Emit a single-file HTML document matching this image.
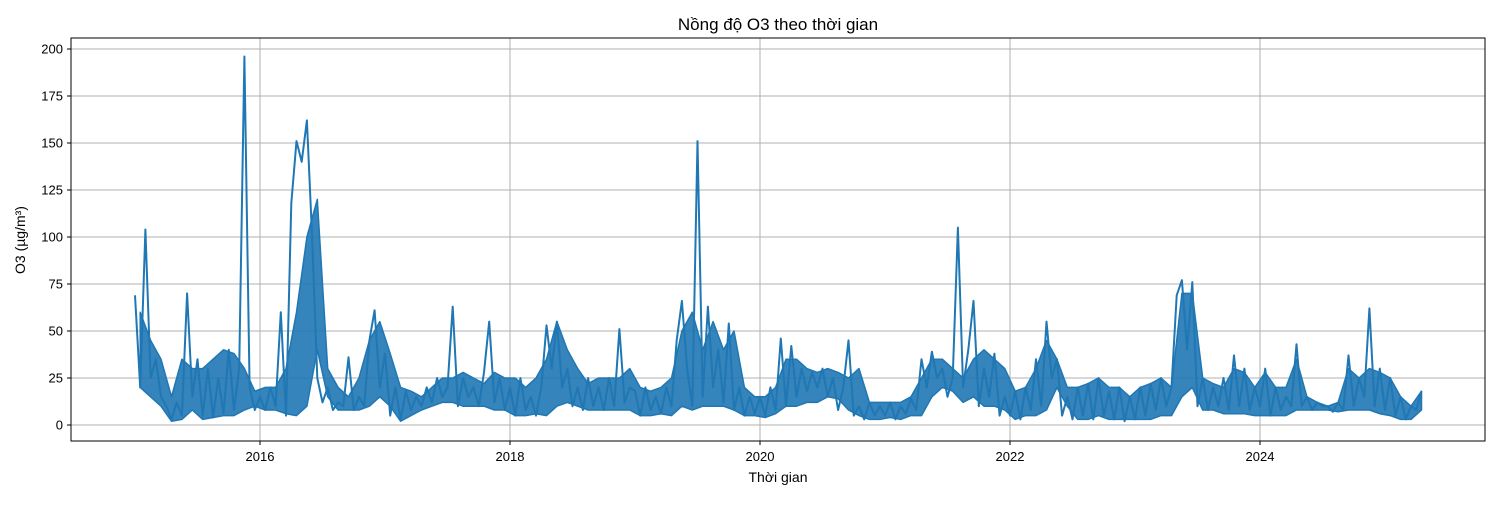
<!DOCTYPE html>
<html><head><meta charset="utf-8"><style>
body{margin:0;background:#fff;}
svg text{font-family:"Liberation Sans","DejaVu Sans",sans-serif;fill:#000;}
</style></head><body>
<svg id="chart" width="1500" height="500" xmlns="http://www.w3.org/2000/svg">
<g id="grid"></g>
<g id="series"></g>
<rect x="71" y="38" width="1414" height="403" fill="none" stroke="#000" stroke-width="1"/>
<g id="axes"></g>
<text x="778" y="30" font-size="17" text-anchor="middle">Nồng độ O3 theo thời gian</text>
<text x="778" y="482" font-size="14" text-anchor="middle">Thời gian</text>
<text x="0" y="0" font-size="14" text-anchor="middle" transform="translate(25,240) rotate(-90)">O3 (µg/m³)</text>
</svg>
<script>
const startYear = 2015;
const stepsPerYear = 24;
const o3Values = [
69,20,104,25,35,15,10,3,12,5,70,15,35,5,30,4,25,6,40,8,30,196,20,8,
15,8,20,10,60,5,118,151,140,162,100,25,12,20,8,12,10,36,8,15,10,45,61,20,
38,5,20,3,18,8,15,10,20,12,25,15,20,63,10,25,15,20,10,28,55,12,25,8,
20,5,25,8,15,5,20,53,30,55,20,30,10,20,8,25,10,20,8,25,10,51,12,20,
18,5,20,8,15,6,20,10,45,66,30,10,151,15,63,20,40,12,54,8,20,5,15,6,
15,5,20,8,46,10,42,15,30,18,28,20,30,15,25,8,20,45,5,10,3,12,5,10,
5,12,3,10,6,14,8,35,20,39,25,30,15,25,105,20,40,66,10,30,15,38,5,15,
5,18,3,20,8,35,10,55,25,35,5,15,3,20,5,22,3,25,5,18,3,20,2,15,
3,20,5,22,8,25,10,20,69,77,40,76,10,25,8,20,10,25,8,37,10,30,8,20,
10,30,5,20,8,15,10,43,10,15,8,12,10,10,7,12,8,37,10,25,15,62,10,30,
8,25,5,15,3,10,8,18
];
const monthsPerYear = 12;
const bandLow = [
20,15,10,2,3,8,3,4,5,5,8,10,
8,8,6,5,10,40,15,8,8,8,10,15,
10,2,5,8,10,12,12,10,10,10,8,8,
5,5,6,5,10,12,10,8,8,8,8,8,
5,5,6,5,10,8,10,10,10,8,5,5,
4,6,10,10,12,12,15,14,8,5,3,3,
4,3,5,5,15,20,18,12,15,10,10,8,
3,5,5,8,20,10,3,3,5,3,3,3,
3,3,5,5,15,20,8,8,6,6,6,5,
5,5,5,8,8,8,8,7,8,8,8,6,
5,3,3,8
];
const bandHigh = [
60,45,35,15,35,30,30,35,40,38,30,18,
20,20,30,60,100,120,30,20,15,25,45,55,
38,20,18,15,20,25,25,28,25,22,28,25,
25,20,25,35,55,40,30,22,25,25,25,30,
20,18,20,25,50,60,40,55,40,50,20,15,
15,20,35,35,30,28,30,28,25,30,12,12,
12,12,15,25,35,35,30,25,35,40,35,30,
18,20,30,45,35,20,20,22,25,20,20,15,
20,22,25,20,70,70,25,22,20,30,28,20,
28,20,20,35,15,12,10,12,30,25,30,28,
25,15,10,18
];
const xTicks = [2016, 2018, 2020, 2022, 2024];
const yTicks = [0, 25, 50, 75, 100, 125, 150, 175, 200];

const NS = "http://www.w3.org/2000/svg";
const xScale = t => 260 + (t - 2016) * 125;
const yScale = v => 425 - v * 1.88;
const grid = document.getElementById('grid');
const axes = document.getElementById('axes');
function mk(tag, attrs, parent){const e=document.createElementNS(NS,tag);for(const k in attrs)e.setAttribute(k,attrs[k]);parent.appendChild(e);return e;}
xTicks.forEach(t=>{
  const x=xScale(t);
  const g=mk('line',{x1:x,x2:x,y1:38,y2:441,stroke:'#b0b0b0','stroke-width':1},grid);
  
  
  const tk=mk('line',{x1:x,x2:x,y1:441,y2:445,stroke:'#000'},axes);
  
  
  const l=mk('text',{x:x,y:461,'font-size':13,'text-anchor':'middle'},axes);
  l.textContent=t;
  
  
});
yTicks.forEach(v=>{
  const y=yScale(v);
  const g=mk('line',{x1:71,x2:1485,y1:y,y2:y,stroke:'#b0b0b0','stroke-width':1},grid);
  
  
  const tk=mk('line',{x1:67,x2:71,y1:y,y2:y,stroke:'#000'},axes);
  
  
  const l=mk('text',{x:63,y:y+4.5,'font-size':13,'text-anchor':'end'},axes);
  l.textContent=v;
  
  
});
const series=document.getElementById('series');
const up=bandHigh.map((v,i)=>xScale(startYear+(i+0.5)/monthsPerYear).toFixed(1)+','+yScale(v).toFixed(1));
const down=bandLow.map((v,i)=>xScale(startYear+(i+0.5)/monthsPerYear).toFixed(1)+','+yScale(v).toFixed(1)).reverse();
const band=mk('polygon',{points:up.concat(down).join(' '),fill:'#1f77b4','fill-opacity':0.9,stroke:'#1f77b4','stroke-width':1.5,'stroke-linejoin':'round'},series);


const pts=o3Values.map((v,i)=>xScale(startYear+i/stepsPerYear).toFixed(1)+','+yScale(v).toFixed(1)).join(' ');
const line=mk('polyline',{points:pts,fill:'none',stroke:'#1f77b4','stroke-width':2,'stroke-linejoin':'round'},series);


</script>
</body></html>
